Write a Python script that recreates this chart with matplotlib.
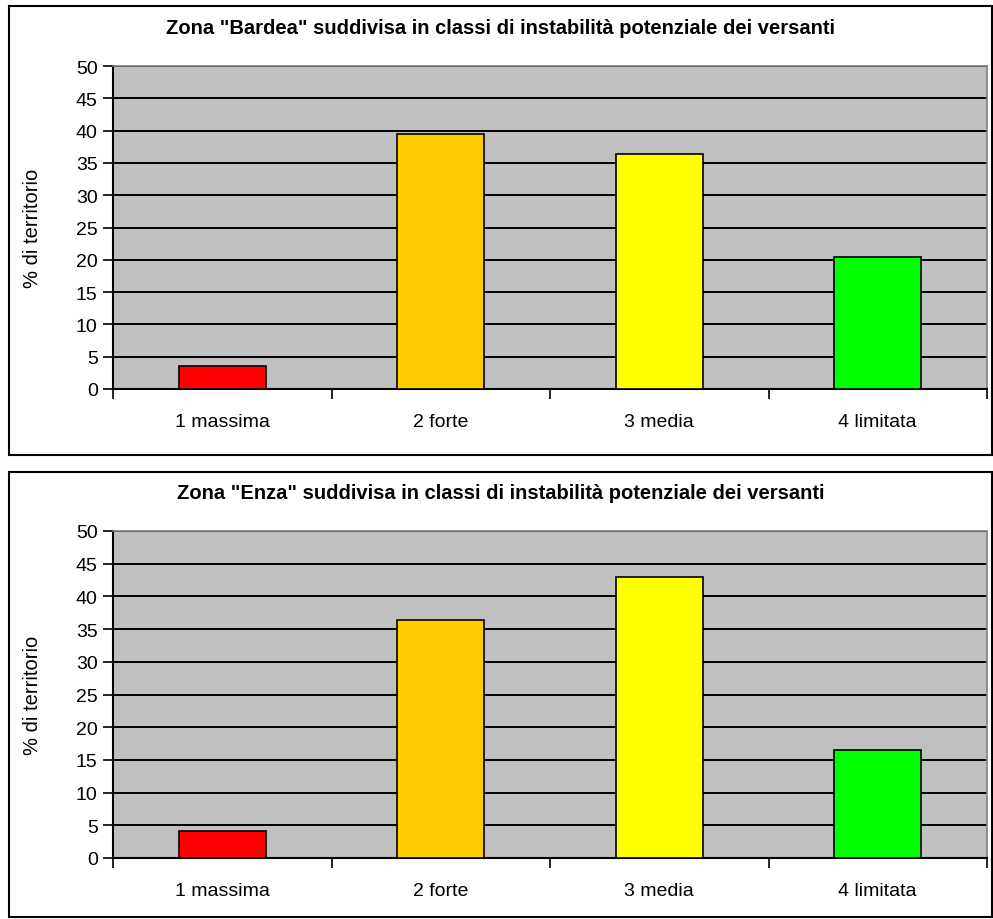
import matplotlib
matplotlib.use("Agg")
import matplotlib.pyplot as plt
from matplotlib.patches import Rectangle
import numpy as np

plt.rcParams['font.family'] = ['Liberation Sans', 'DejaVu Sans']

categories = ["1 massima", "2 forte", "3 media", "4 limitata"]
bar_colors = ["#FF0000", "#FFCC00", "#FFFF00", "#00FF00"]
bardea_values = [3.5, 39.5, 36.4, 20.5]
enza_values = [4.2, 36.4, 43.0, 16.5]
titles = ['Zona "Bardea" suddivisa in classi di instabilità potenziale dei versanti',
          'Zona "Enza" suddivisa in classi di instabilità potenziale dei versanti']
y_label = "% di territorio"
y_ticks = list(range(0, 55, 5))

W, H = 993, 920
fig = plt.figure(figsize=(W / 100, H / 100), dpi=100)


def fx(px):
    return px / W


def fy(py):
    return 1 - py / H


# chart frames (pixel boxes: left, top, right, bottom)
frames = [(9, 7, 992, 456), (9, 473, 992, 918)]
# plot areas (left, top, right, bottom)
plots = [(113, 67, 987, 390), (113, 532, 987, 859)]

for frame, plot_box, values, title in zip(frames, plots, [bardea_values, enza_values], titles):
    l, t, r, b = frame
    fig.patches.append(Rectangle((fx(l), fy(b)), fx(r - l), (b - t) / H,
                                 transform=fig.transFigure, fill=False,
                                 edgecolor="black", linewidth=1.5, zorder=0))
    pl, pt, pr, pb = plot_box
    ax = fig.add_axes([fx(pl), fy(pb), fx(pr - pl), (pb - pt) / H])
    ax.set_facecolor("#C0C0C0")
    x = np.arange(len(categories))
    ax.bar(x, values, width=0.4, color=bar_colors, edgecolor="black",
           linewidth=1.2, zorder=3)
    ax.set_xlim(-0.5, len(categories) - 0.5)
    ax.set_ylim(0, 50)
    ax.set_yticks(y_ticks)
    ax.set_yticklabels([str(v) for v in y_ticks], fontsize=14)
    ax.yaxis.grid(True, color="black", linewidth=1.4, zorder=1)
    ax.set_axisbelow(True)
    ax.set_xticks(x)
    ax.set_xticklabels(categories, fontsize=14)
    ax.tick_params(axis="x", which="major", length=0, pad=17)
    ax.set_xticks(np.arange(-0.5, len(categories)), minor=True)
    ax.tick_params(axis="x", which="minor", length=7, width=1.2, direction="out")
    ax.tick_params(axis="y", length=7, width=1.2, direction="out", pad=4)
    for side in ("left", "bottom"):
        ax.spines[side].set_color("black")
        ax.spines[side].set_linewidth(1.5)
    for side in ("top", "right"):
        ax.spines[side].set_color("#808080")
        ax.spines[side].set_linewidth(1.2)
    fig.text(fx(33), fy((pt + pb) / 2), y_label, rotation=90, fontsize=14.5,
             ha="center", va="center")
    fig.text(fx((l + r) / 2), fy(t + 21), title, fontsize=14.5, fontweight="bold",
             ha="center", va="center")

fig.savefig("out.png", dpi=100)
